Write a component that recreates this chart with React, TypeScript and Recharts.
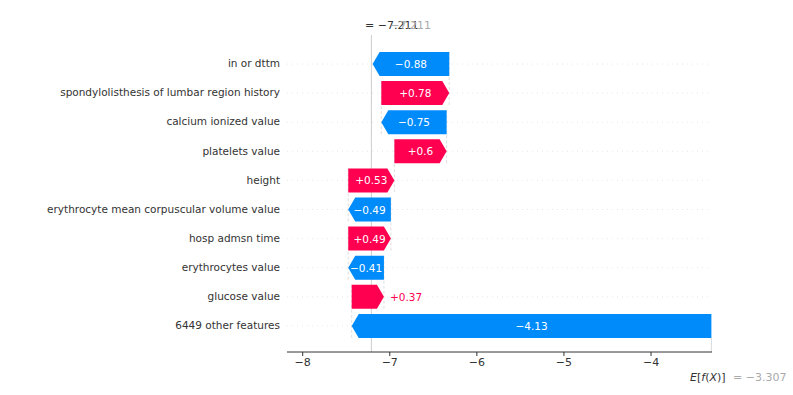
import React from "react";
import {
  ComposedChart,
  Bar,
  XAxis,
  YAxis,
} from "recharts";

// SHAP waterfall — one prediction, base value at the bottom, f(x) at the top.

const features = [
  "in or dttm",
  "spondylolisthesis of lumbar region history",
  "calcium ionized value",
  "platelets value",
  "height",
  "erythrocyte mean corpuscular volume value",
  "hosp admsn time",
  "erythrocytes value",
  "glucose value",
  "6449 other features",
];
const shapValues = [-0.88, 0.78, -0.75, 0.6, 0.53, -0.49, 0.49, -0.41, 0.37, -4.13];
const baseValue = -3.307;
const fxValue = -7.211;
const xTicks = [-8, -7, -6, -5, -4];

const RED = "#ff0051";
const BLUE = "#008bfb";
const FONT = "DejaVu Sans, sans-serif";

const W = 793;
const H = 395;
const PLOT_TOP = 35;
const PLOT_LEFT = 287;
const PLOT_RIGHT = 712;
const PAD_TOP = 14;
const PAD_BOTTOM = 12;
const AXIS_Y = 352;
const ROW_STEP = (AXIS_Y - PAD_BOTTOM - PLOT_TOP - PAD_TOP) / features.length;
const HEAD = 7;

// cumulative sums, from the bottom row (base value) upwards
const rows = (() => {
  const out: any[] = new Array(features.length);
  let cur = baseValue;
  for (let i = features.length - 1; i >= 0; i--) {
    const start = cur;
    const end = cur + shapValues[i];
    out[i] = { name: features[i], value: shapValues[i], start, end, range: [Math.min(start, end), Math.max(start, end)], first: i === 0, last: i === features.length - 1 };
    cur = end;
  }
  return out;
})();

const fmt = (v: number) => (v < 0 ? "\u2212" + Math.abs(v) : String(v));
const signed = (v: number) => (v < 0 ? "\u2212" + String(Math.abs(v)) : "+" + String(v));

function Arrow(props: any) {
  const { x, y, width, height, payload, background } = props;
  const left = Math.min(x, x + width);
  const w = Math.abs(width);
  const right = left + w;
  const mid = y + height / 2;
  const h = Math.min(HEAD, w);
  const pos = payload.value > 0;
  const pts = pos
    ? [[left, y], [right - h, y], [right, mid], [right - h, y + height], [left, y + height]]
    : [[right, y], [left + h, y], [left, mid], [left + h, y + height], [right, y + height]];
  const startX = pos ? left : right;
  const label = signed(payload.value);
  const inside = w >= 34;

  // pixel position of f(x), from this bar's own scale
  const pxPerUnit = w / (payload.range[1] - payload.range[0]);
  const fxX = left + (fxValue - payload.range[0]) * pxPerUnit;
  const gap = (ROW_STEP - height) / 2;
  const bandTop = payload.first ? PLOT_TOP : y - gap;
  const bandBottom = payload.last ? AXIS_Y : y + height + gap;
  const gx1 = background && background.width ? background.x : PLOT_LEFT;
  const gx2 = background && background.width ? background.x + background.width : PLOT_RIGHT;

  return (
    <g>
      <line x1={gx1} x2={gx2} y1={mid} y2={mid} stroke="#e2e2e2" strokeWidth={0.8} strokeDasharray="1 4" />
      <line x1={fxX} x2={fxX} y1={bandTop} y2={bandBottom} stroke="#cccccc" strokeWidth={1} />
      {!payload.last && (
        <line x1={startX} x2={startX} y1={y} y2={y + ROW_STEP + height} stroke="#d0d0d0" strokeWidth={0.7} strokeDasharray="3 2" />
      )}
      {payload.last && (
        <line x1={startX} x2={startX} y1={y + height} y2={AXIS_Y} stroke="#d0d0d0" strokeWidth={0.8} />
      )}
      <polygon points={pts.map((p) => p.join(",")).join(" ")} fill={pos ? RED : BLUE} />
      {inside ? (
        <text x={(left + right) / 2} y={mid} textAnchor="middle" dominantBaseline="central" fill="#fff" fontSize={10.5} fontFamily={FONT}>
          {label}
        </text>
      ) : (
        <text
          x={pos ? right + 6 : left - 6}
          y={mid}
          textAnchor={pos ? "start" : "end"}
          dominantBaseline="central"
          fill={pos ? RED : BLUE}
          fontSize={10.5}
          fontFamily={FONT}
        >
          {label}
        </text>
      )}
    </g>
  );
}

export default function App() {
  return (
    <div style={{ position: "absolute", left: 0, top: 0, width: W, height: H, background: "#fff", fontFamily: FONT }}>
      <ComposedChart
        width={W}
        height={H}
        data={rows}
        layout="vertical"
        margin={{ top: PLOT_TOP, right: W - PLOT_RIGHT, left: 0, bottom: H - AXIS_Y - 30 }}
      >
        <XAxis
          type="number"
          domain={[-8.18, -3.3]}
          ticks={xTicks}
          allowDataOverflow
          height={30}
          tickFormatter={fmt}
          tickSize={4}
          axisLine={{ stroke: "#333" }}
          tickLine={{ stroke: "#333" }}
          tick={{ fill: "#333", fontSize: 11, fontFamily: FONT }}
        />
        <YAxis
          type="category"
          dataKey="name"
          width={PLOT_LEFT}
          interval={0}
          padding={{ top: PAD_TOP, bottom: PAD_BOTTOM }}
          axisLine={false}
          tickLine={false}
          tickSize={0}
          tickMargin={7}
          tick={{ fill: "#333", fontSize: 10.5, fontFamily: FONT }}
        />
        <Bar dataKey="range" barSize={24} shape={<Arrow />} isAnimationActive={false} />
      </ComposedChart>
      <svg width={W} height={H} style={{ position: "absolute", left: 0, top: 0, pointerEvents: "none" }}>
        <text x={365} y={29} fontSize={11} fontFamily={FONT} fill="#333">= {fmt(fxValue)}</text>
        <text x={431} y={29} textAnchor="end" fontSize={11} fontFamily={FONT} fill="#aaa">{fmt(fxValue)}</text>
        <text x={690} y={381} fontSize={11} fontFamily={FONT} fill="#333">
          <tspan fontStyle="italic">E</tspan>[<tspan fontStyle="italic">f</tspan>(<tspan fontStyle="italic">X</tspan>)]
        </text>
        <text x={733} y={381} fontSize={11} fontFamily={FONT} fill="#aaa">= {fmt(baseValue)}</text>
      </svg>
    </div>
  );
}
